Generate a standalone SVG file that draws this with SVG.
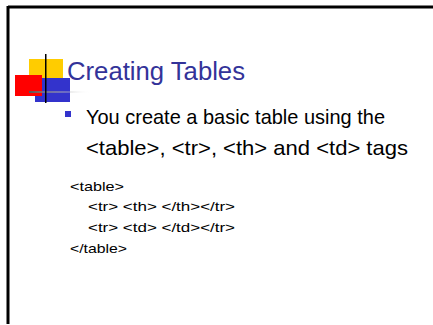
<svg xmlns="http://www.w3.org/2000/svg" width="433" height="325" viewBox="0 0 433 325">
<defs>
<linearGradient id="fade" x1="0" y1="0" x2="1" y2="0">
<stop offset="0" stop-color="#555"/>
<stop offset="1" stop-color="#fff" stop-opacity="0"/>
</linearGradient>
<style>
.t{font-family:"Liberation Sans",Arial,sans-serif;}
.title{fill:#333399;font-size:26px;}
.body{fill:#000;font-size:21px;}
.code{fill:#000;font-size:13px;}
</style>
</defs>
<rect width="433" height="325" fill="#fff"/>
<g id="frame">
<line x1="8" y1="7" x2="433" y2="7" stroke="#000" stroke-width="3"/>
<line x1="8" y1="6" x2="8" y2="324" stroke="#000" stroke-width="3"/>
</g>
<g id="logo">
<rect x="29" y="59" width="34" height="24" fill="#ffcc00"/>
<rect x="35" y="78" width="35" height="24" fill="#3333cc"/>
<rect x="15" y="75" width="27" height="21" fill="#ff0000"/>
<rect x="29" y="91" width="62" height="2" fill="url(#fade)"/>
<rect x="45" y="54" width="1.5" height="49" fill="#000"/>
</g>
<g id="title">
<text class="t title" x="67" y="80" textLength="178" lengthAdjust="spacingAndGlyphs">Creating Tables</text>
</g>
<g id="bullet">
<rect x="65" y="111" width="6" height="6" fill="#3333cc"/>
<text class="t body" x="86" y="124" textLength="299" lengthAdjust="spacingAndGlyphs">You create a basic table using the</text>
<text class="t body" x="86" y="155" textLength="322" lengthAdjust="spacingAndGlyphs">&lt;table&gt;, &lt;tr&gt;, &lt;th&gt; and &lt;td&gt; tags</text>
</g>
<g id="code">
<text class="t code" x="70" y="191" textLength="54" lengthAdjust="spacingAndGlyphs">&lt;table&gt;</text>
<text class="t code" x="88" y="211" textLength="147" lengthAdjust="spacingAndGlyphs">&lt;tr&gt; &lt;th&gt; &lt;/th&gt;&lt;/tr&gt;</text>
<text class="t code" x="88" y="232" textLength="147" lengthAdjust="spacingAndGlyphs">&lt;tr&gt; &lt;td&gt; &lt;/td&gt;&lt;/tr&gt;</text>
<text class="t code" x="70" y="253" textLength="57" lengthAdjust="spacingAndGlyphs">&lt;/table&gt;</text>
</g>
</svg>
